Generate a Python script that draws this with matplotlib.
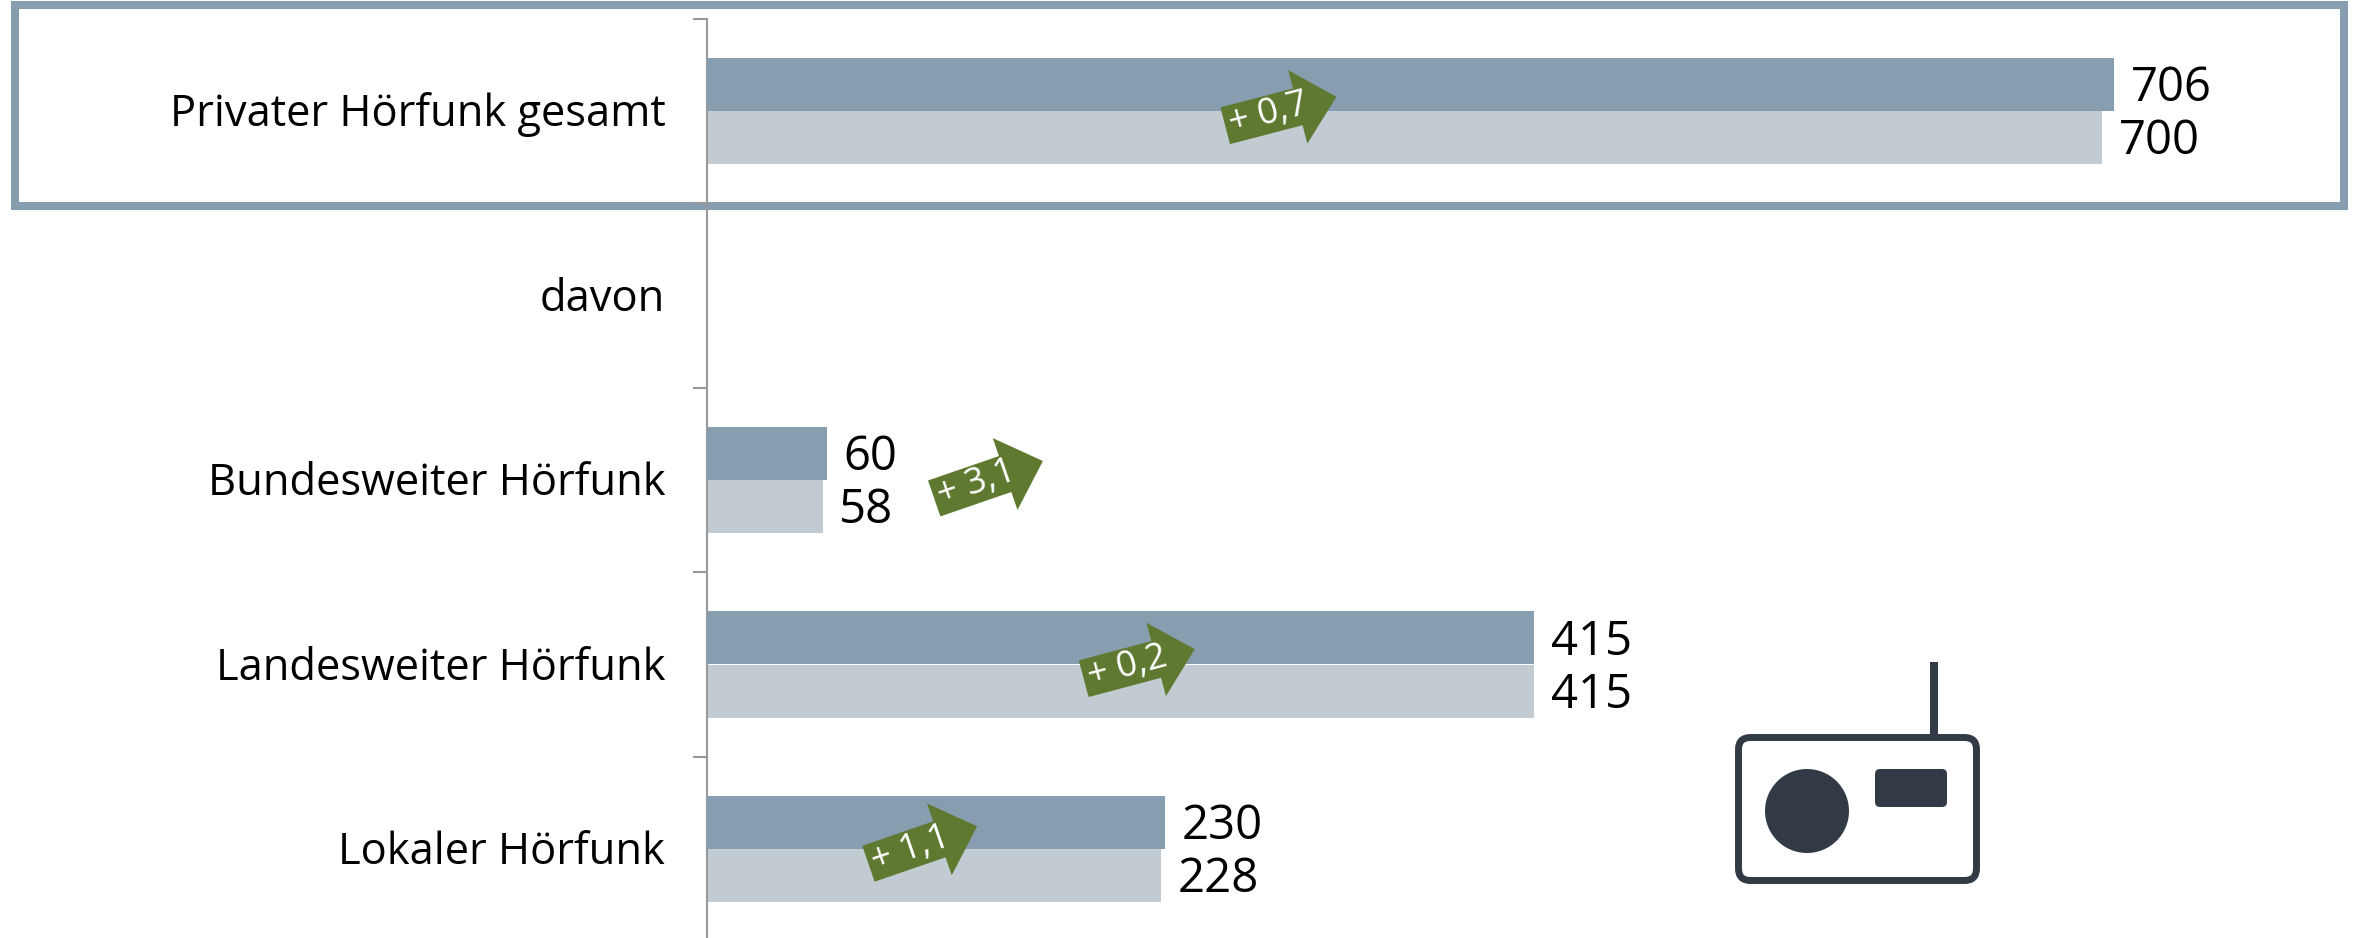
import numpy as np
import matplotlib
matplotlib.use('Agg')
import matplotlib.pyplot as plt
from matplotlib.patches import Polygon, Rectangle, FancyBboxPatch, Circle
from matplotlib.transforms import Affine2D, IdentityTransform

plt.rcParams['font.family'] = ['Open Sans', 'DejaVu Sans']

categories = ['Privater Hörfunk gesamt', 'davon', 'Bundesweiter Hörfunk', 'Landesweiter Hörfunk', 'Lokaler Hörfunk']
values_new = [706, None, 60, 415, 230]
values_old = [700, None, 58, 415, 228]
changes = ['+ 0,7', None, '+ 3,1', '+ 0,2', '+ 1,1']
# where the arrow tails sit (value, category offset) and how much they tilt
arrow_x = [260, None, 114, 189, 81]
arrow_dy = [0.08, None, 0.10, 0.077, 0.08]
arrow_angle = [14.6, None, 19, 14.9, 19]

BLUE = '#879EB1'
LIGHT = '#C2CBD2'
GREEN = '#5F7A30'
DARK = '#323A46'
GREY = '#999999'

W, H = 2354, 938
AXIS_X = 707
PX_PER_UNIT = 1.993
ROW_H = 184.5
BAR_H = 53 / ROW_H

fig = plt.figure(figsize=(W / 100, H / 100), dpi=100)
ax = fig.add_axes([AXIS_X / W, 0, 1 - AXIS_X / W, 1])
ax.patch.set_visible(False)

for i, cat in enumerate(categories):
    ax.annotate(cat, xy=(0, i), xytext=(-30, 1.1), textcoords='offset points', fontsize=31.3,
                ha='right', va='center_baseline', annotation_clip=False)
    if values_new[i] is None:
        continue
    ax.barh(i - BAR_H / 2, values_new[i], height=BAR_H, color=BLUE, zorder=3)
    ax.barh(i + BAR_H / 2, values_old[i], height=BAR_H, color=LIGHT, zorder=2)
    ax.annotate(str(values_new[i]), xy=(values_new[i], i - BAR_H / 2), xytext=(11.9, 1.1),
                textcoords='offset points', fontsize=34, color='black',
                ha='left', va='center_baseline', zorder=5)
    ax.annotate(str(values_old[i]), xy=(values_old[i], i + BAR_H / 2), xytext=(11.9, 1.1),
                textcoords='offset points', fontsize=34, color='black',
                ha='left', va='center_baseline', zorder=5)

for s in ['top', 'right', 'bottom']:
    ax.spines[s].set_visible(False)
ax.spines['left'].set_color(GREY)
ax.spines['left'].set_linewidth(1.5)
ax.spines['left'].set_bounds(-0.5, (H - 111) / ROW_H)
ax.set_xticks([])
ax.set_yticks(np.arange(len(categories)) - 0.5)
ax.set_yticklabels([])
ax.tick_params(axis='y', length=10, width=1.5, color=GREY)

# set the limits last, set_yticks can widen them
ax.set_xlim(0, (W - AXIS_X) / PX_PER_UNIT)
ax.set_ylim((H - 111) / ROW_H, -111 / ROW_H)

# arrow shape in pixels, tail centre at the origin
arrow_shape = [(0, -19), (75, -19), (75, -38), (115, 0), (75, 38), (75, 19), (0, 19)]
fig.canvas.draw()
for i in range(len(categories)):
    if changes[i] is None:
        continue
    x0, y0 = ax.transData.transform((arrow_x[i], i + arrow_dy[i]))
    tr = Affine2D().rotate_deg(arrow_angle[i]).translate(x0, y0)
    fig.add_artist(Polygon(arrow_shape, closed=True, color=GREEN, lw=0, zorder=6,
                           transform=tr))
    tx, ty = tr.transform((45, 0))
    fig.text(tx / W, ty / H, changes[i], color='white', fontsize=26, rotation=arrow_angle[i],
             rotation_mode='anchor', ha='center', va='center', zorder=7)

# frame around the total row
fig.add_artist(Rectangle((14.5, H - 206), 2329.5, 201.5, fill=False, ec=BLUE, lw=5.8,
                         transform=IdentityTransform(), zorder=-1))

# radio icon
fig.add_artist(FancyBboxPatch((1738.5, H - 880.5), 238, 143, boxstyle='round,pad=0,rounding_size=12',
                              fill=False, ec=DARK, lw=5.0, transform=IdentityTransform(), zorder=5))
fig.add_artist(Rectangle((1930, H - 737), 8, 75, color=DARK, lw=0, transform=IdentityTransform()))
fig.add_artist(Circle((1807, H - 811), 42, color=DARK, lw=0, transform=IdentityTransform()))
fig.add_artist(FancyBboxPatch((1875, H - 807), 72, 38, boxstyle='round,pad=0,rounding_size=5',
                              color=DARK, lw=0, transform=IdentityTransform()))

fig.savefig('out.png', dpi=100)
